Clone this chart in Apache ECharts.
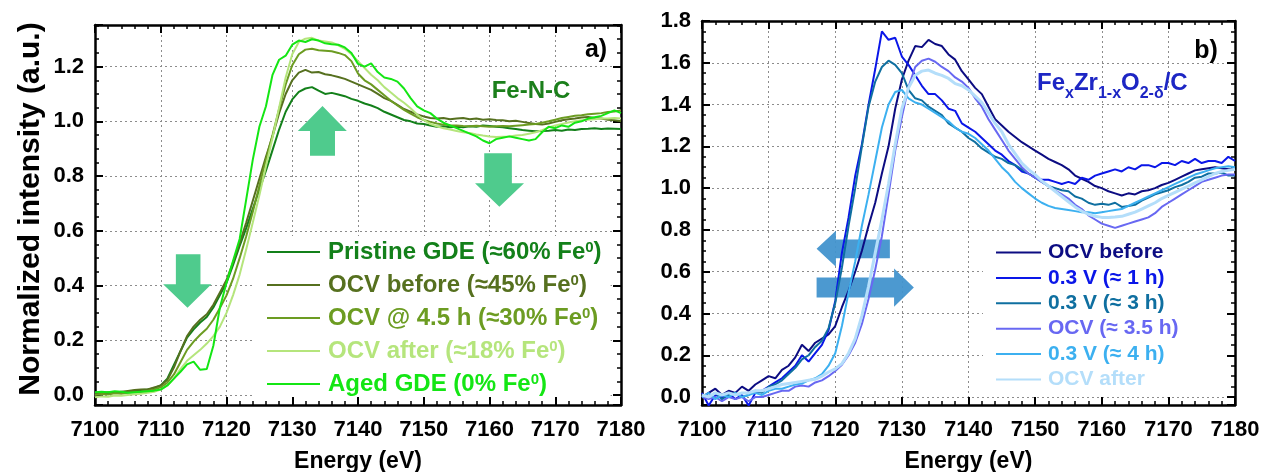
<!DOCTYPE html>
<html>
<head>
<meta charset="utf-8">
<script src="https://cdn.jsdelivr.net/npm/echarts@6/dist/echarts.min.js"></script>
<style>
  html, body { margin: 0; padding: 0; background: #fff; }
  #chart { width: 1263px; height: 472px; }
</style>
</head>
<body>
<div id="chart"></div>
<script>
// sampling grid (eV), 1 eV steps
const energy = Array.from({ length: 81 }, (_, i) => 7100 + i);

// panel a) Fe-N-C
const pristine = [
  0.005,0.008,0.006,0.010,0.008,0.012,0.015,0.018,0.020,0.025,
  0.035,0.060,0.110,0.160,0.210,0.240,0.265,0.285,0.320,0.365,
  0.410,0.475,0.545,0.610,0.680,0.750,0.820,0.895,0.970,1.035,
  1.080,1.108,1.120,1.125,1.112,1.100,1.104,1.098,1.092,1.082,
  1.075,1.065,1.058,1.048,1.035,1.025,1.015,1.005,1.000,0.992,
  0.990,0.985,0.980,0.982,0.978,0.980,0.978,0.982,0.980,0.985,
  0.983,0.980,0.978,0.975,0.972,0.968,0.966,0.964,0.965,0.966,
  0.968,0.966,0.970,0.968,0.972,0.973,0.975,0.972,0.974,0.973,
  0.972];
const ocvBeforeA = [
  0.008,0.005,0.010,0.008,0.012,0.015,0.018,0.020,0.020,0.028,
  0.035,0.055,0.100,0.160,0.215,0.250,0.275,0.295,0.330,0.375,
  0.420,0.485,0.555,0.630,0.710,0.790,0.870,0.945,1.030,1.100,
  1.150,1.178,1.188,1.178,1.180,1.172,1.168,1.162,1.155,1.145,
  1.135,1.125,1.115,1.100,1.085,1.075,1.060,1.045,1.035,1.025,
  1.018,1.012,1.010,1.012,1.008,1.010,1.012,1.008,1.010,1.006,
  1.008,1.005,1.004,1.000,1.002,0.998,0.994,0.990,0.988,0.992,
  0.998,1.004,1.008,1.010,1.014,1.016,1.012,1.010,1.006,1.004,
  1.000];
const ocv45 = [
  0.000,0.004,0.002,0.006,0.005,0.008,0.010,0.012,0.015,0.020,
  0.028,0.045,0.075,0.120,0.165,0.195,0.220,0.242,0.275,0.318,
  0.364,0.425,0.500,0.580,0.670,0.765,0.860,0.950,1.045,1.135,
  1.205,1.245,1.262,1.265,1.260,1.258,1.256,1.250,1.242,1.220,
  1.175,1.150,1.135,1.115,1.095,1.075,1.058,1.042,1.028,1.015,
  1.005,0.998,0.992,0.988,0.986,0.985,0.983,0.982,0.984,0.982,
  0.980,0.982,0.983,0.982,0.984,0.986,0.988,0.990,0.995,1.000,
  1.006,1.012,1.016,1.020,1.022,1.026,1.028,1.030,1.034,1.036,
  1.040];
const ocvAfterA = [
  -0.008,-0.005,-0.006,-0.002,-0.003,0.000,0.003,0.005,0.008,0.012,
  0.020,0.035,0.060,0.095,0.125,0.145,0.165,0.188,0.215,0.250,
  0.300,0.365,0.440,0.533,0.630,0.730,0.836,0.940,1.050,1.160,
  1.245,1.290,1.302,1.305,1.295,1.292,1.288,1.278,1.265,1.245,
  1.220,1.195,1.170,1.150,1.125,1.105,1.085,1.068,1.048,1.025,
  1.005,0.990,0.982,0.975,0.970,0.965,0.960,0.957,0.952,0.948,
  0.945,0.943,0.944,0.945,0.948,0.950,0.955,0.960,0.968,0.978,
  0.985,0.990,0.996,1.000,1.004,1.006,1.008,1.010,1.010,1.012,
  1.010];
const aged = [
  0.010,0.012,0.010,0.014,0.012,0.008,0.010,0.012,0.014,0.016,
  0.020,0.035,0.060,0.085,0.112,0.122,0.092,0.095,0.180,0.320,
  0.410,0.490,0.570,0.715,0.860,0.980,1.055,1.170,1.225,1.240,
  1.280,1.295,1.290,1.300,1.295,1.285,1.282,1.280,1.270,1.250,
  1.210,1.200,1.212,1.180,1.160,1.155,1.145,1.120,1.085,1.055,
  1.040,1.030,1.010,0.995,0.985,0.975,0.965,0.955,0.945,0.930,
  0.920,0.935,0.940,0.945,0.940,0.935,0.930,0.935,0.960,0.980,
  0.975,0.985,0.980,0.995,1.000,1.010,1.015,1.020,1.030,1.040,
  1.030];

// panel b) FexZr1-xO2-d/C
const ocvBeforeB = [
  0.000,0.020,0.040,0.010,0.030,0.020,0.050,0.030,0.060,0.080,
  0.100,0.090,0.130,0.150,0.190,0.250,0.220,0.260,0.280,0.300,
  0.340,0.430,0.510,0.600,0.700,0.820,0.930,1.070,1.200,1.380,
  1.520,1.610,1.680,1.675,1.710,1.690,1.680,1.640,1.615,1.560,
  1.520,1.480,1.450,1.390,1.330,1.300,1.270,1.245,1.220,1.200,
  1.180,1.160,1.140,1.125,1.110,1.090,1.060,1.045,1.030,1.010,
  1.000,0.985,0.975,0.965,0.975,0.970,0.985,0.990,1.000,1.015,
  1.025,1.040,1.055,1.070,1.085,1.090,1.095,1.100,1.095,1.090,
  1.090];
const v03h1 = [
  0.020,-0.040,0.010,0.000,0.020,-0.010,0.010,-0.040,0.020,0.030,
  0.050,0.070,0.090,0.120,0.150,0.200,0.170,0.210,0.250,0.320,
  0.460,0.690,0.860,1.060,1.210,1.400,1.570,1.750,1.710,1.720,
  1.630,1.590,1.540,1.490,1.450,1.450,1.420,1.380,1.370,1.310,
  1.290,1.270,1.240,1.210,1.180,1.160,1.130,1.110,1.080,1.070,
  1.050,1.040,1.040,1.030,1.020,1.030,1.020,1.050,1.040,1.060,
  1.070,1.080,1.090,1.080,1.100,1.090,1.110,1.110,1.100,1.120,
  1.120,1.110,1.130,1.120,1.140,1.120,1.130,1.130,1.120,1.150,
  1.130];
const v03h3 = [
  0.010,0.000,0.020,-0.010,0.010,0.020,0.000,0.010,0.030,0.020,
  0.050,0.060,0.080,0.110,0.140,0.180,0.200,0.240,0.270,0.330,
  0.450,0.620,0.820,1.000,1.200,1.390,1.510,1.580,1.610,1.590,
  1.550,1.470,1.430,1.420,1.390,1.370,1.350,1.310,1.290,1.270,
  1.240,1.220,1.190,1.170,1.150,1.140,1.120,1.110,1.090,1.070,
  1.050,1.030,1.010,1.000,0.990,0.985,0.960,0.950,0.930,0.920,
  0.925,0.920,0.930,0.910,0.915,0.920,0.940,0.955,0.970,0.980,
  0.990,1.005,1.015,1.030,1.050,1.055,1.070,1.070,1.075,1.060,
  1.060];
const ocvH35 = [
  0.000,-0.010,0.000,-0.020,0.000,-0.010,0.000,-0.020,0.000,0.000,
  0.010,0.020,0.030,0.030,0.050,0.055,0.050,0.070,0.080,0.100,
  0.125,0.155,0.200,0.260,0.350,0.470,0.610,0.770,0.970,1.180,
  1.340,1.485,1.580,1.610,1.620,1.605,1.580,1.560,1.530,1.510,
  1.480,1.430,1.390,1.330,1.280,1.230,1.180,1.140,1.100,1.070,
  1.050,1.030,1.010,0.990,0.970,0.950,0.920,0.900,0.870,0.850,
  0.830,0.820,0.810,0.820,0.830,0.840,0.850,0.860,0.880,0.910,
  0.930,0.950,0.970,0.990,1.010,1.030,1.040,1.050,1.060,1.065,
  1.065];
const v03h4 = [
  0.000,0.020,-0.010,0.010,0.000,0.020,0.000,0.010,0.020,0.010,
  0.030,0.040,0.040,0.050,0.060,0.065,0.080,0.090,0.110,0.150,
  0.210,0.340,0.500,0.650,0.820,0.970,1.130,1.290,1.400,1.460,
  1.470,1.430,1.410,1.400,1.380,1.360,1.340,1.320,1.290,1.270,
  1.260,1.240,1.210,1.180,1.140,1.100,1.070,1.030,1.000,0.975,
  0.950,0.930,0.915,0.905,0.900,0.895,0.890,0.885,0.885,0.880,
  0.885,0.890,0.895,0.900,0.915,0.930,0.945,0.960,0.975,0.990,
  1.005,1.020,1.035,1.050,1.065,1.075,1.085,1.095,1.100,1.105,
  1.100];
const ocvAfterB = [
  0.010,0.000,0.020,0.010,0.020,0.010,0.020,0.020,0.030,0.030,
  0.040,0.050,0.060,0.065,0.070,0.075,0.080,0.085,0.100,0.120,
  0.135,0.160,0.210,0.280,0.390,0.530,0.690,0.850,1.020,1.210,
  1.380,1.480,1.540,1.560,1.565,1.550,1.540,1.525,1.500,1.490,
  1.470,1.440,1.410,1.360,1.310,1.270,1.210,1.165,1.120,1.090,
  1.065,1.035,1.010,0.985,0.960,0.935,0.910,0.890,0.875,0.865,
  0.860,0.860,0.862,0.865,0.875,0.885,0.900,0.915,0.930,0.950,
  0.965,0.980,0.995,1.010,1.025,1.040,1.055,1.070,1.080,1.085,
  1.090];

const namesA = ["Pristine GDE (≈60% Fe0)", "OCV before (≈45% Fe0)", "OCV @ 4.5 h (≈30% Fe0)", "OCV after (≈18% Fe0)", "Aged GDE (0% Fe0)"];
const namesB = ["OCV before", "0.3 V (≈ 1 h)", "0.3 V (≈ 3 h)", "OCV (≈ 3.5 h)", "0.3 V (≈ 4 h)", "OCV after"];
const yTicksA = [0, 0.2, 0.4, 0.6, 0.8, 1.0, 1.2];
const yTicksB = [0, 0.2, 0.4, 0.6, 0.8, 1.0, 1.2, 1.4, 1.6, 1.8];

const valuesA = [pristine, ocvBeforeA, ocv45, ocvAfterA, aged];
const valuesB = [ocvBeforeB, v03h1, v03h3, ocvH35, v03h4, ocvAfterB];
const colorsA = ["#13801a", "#56701f", "#6c9c22", "#b5e57c", "#14e614"];
const colorsB = ["#0c0c82", "#0a16e8", "#0f6fa0", "#6868f2", "#3cb0f0", "#b4defa"];

const FONT = "'Liberation Sans', Arial, sans-serif";
const chart = echarts.init(document.getElementById("chart"));

function onTick(v, ticks) {
  return ticks.some(t => Math.abs(t - v) < 1e-6) ? v.toFixed(1) : "";
}

function xAxes(grid) {
  const base = {
    gridIndex: grid, type: "value", min: 7100, max: 7180, interval: 10,
    axisLine: { show: true, onZero: false, lineStyle: { color: "#000", width: 2.5 } },
    axisTick: { show: true, inside: true, length: 8, lineStyle: { color: "#000", width: 2 } },
    minorTick: { show: true, splitNumber: 5, length: 4, lineStyle: { color: "#000", width: 1.5 } },
  };
  return [
    Object.assign({}, base, {
      position: "bottom",
      axisLabel: { color: "#000", fontSize: 22, fontWeight: "bold", fontFamily: FONT, margin: 14,
        formatter: v => String(v) },
      splitLine: { show: true, lineStyle: { color: "#8c8c8c", width: 1, type: [2, 3] } },
      name: "Energy (eV)", nameLocation: "middle", nameGap: 45,
      nameTextStyle: { color: "#000", fontSize: 23, fontWeight: "bold", fontFamily: FONT },
    }),
    Object.assign({}, base, { position: "top", axisLabel: { show: false }, splitLine: { show: false } }),
  ];
}

function yAxes(grid, min, max, ticks) {
  const base = {
    gridIndex: grid, type: "value", min: min, max: max, minInterval: 0.2, maxInterval: 0.2,
    axisLine: { show: true, onZero: false, lineStyle: { color: "#000", width: 2.5 } },
    axisTick: { show: true, inside: true, length: 8, lineStyle: { color: "#000", width: 2 } },
    minorTick: { show: true, splitNumber: 4, length: 4, lineStyle: { color: "#000", width: 1.5 } },
  };
  return [
    Object.assign({}, base, {
      position: "left",
      axisLabel: { color: "#000", fontSize: 22, fontWeight: "bold", fontFamily: FONT, margin: 11,
        formatter: v => onTick(v, ticks) },
      splitLine: { show: true, lineStyle: { color: "#8c8c8c", width: 1, type: [2, 3] } },
    }),
    Object.assign({}, base, { position: "right", axisLabel: { show: false }, splitLine: { show: false } }),
  ];
}

const series = [];
valuesA.forEach((vals, i) => series.push({
  name: namesA[i], type: "line", xAxisIndex: 0, yAxisIndex: 0, symbol: "none",
  data: energy.map((e, k) => [e, vals[k]]),
  lineStyle: { color: colorsA[i], width: 2 }, itemStyle: { color: colorsA[i] },
  z: 3,
}));
valuesB.forEach((vals, i) => series.push({
  name: namesB[i], type: "line", xAxisIndex: 2, yAxisIndex: 2, symbol: "none",
  data: energy.map((e, k) => [e, vals[k]]),
  lineStyle: { color: colorsB[i], width: i === 5 ? 3 : 2 }, itemStyle: { color: colorsB[i] },
  z: 3,
}));

const option = {
  backgroundColor: "#fff",
  animation: false,
  textStyle: { fontFamily: FONT },
  grid: [
    { left: 95, top: 25, width: 526, height: 380, outerBoundsMode: "none", containLabel: false },
    { left: 702, top: 21, width: 533, height: 384, outerBoundsMode: "none", containLabel: false },
  ],
  xAxis: [...xAxes(0), ...xAxes(1)],
  yAxis: [...yAxes(0, -0.0365, 1.352, yTicksA), ...yAxes(1, -0.038, 1.8, yTicksB)],
  legend: [
    {
      orient: "vertical", left: 253, top: 236, padding: [4, 9, 1, 14], backgroundColor: "#fff",
      icon: "rect", itemWidth: 53, itemHeight: 2, itemGap: 9, selectedMode: false,
      data: namesA.map((n, i) => ({ name: n, textStyle: { color: colorsA[i] } })),
      formatter: n => "{t|" + n.replace(/Fe0\)$/, "Fe") + "}{s|0}{t|)}",
      textStyle: {
        fontSize: 24, fontWeight: "bold", fontFamily: FONT, lineHeight: 24, padding: [0, 0, 0, 3],
        rich: {
          t: { fontSize: 24, fontWeight: "bold", fontFamily: FONT, lineHeight: 24 },
          s: { fontSize: 15, fontWeight: "bold", fontFamily: FONT, lineHeight: 14, verticalAlign: "top" },
        },
      },
    },
    {
      orient: "vertical", left: 983, top: 238, padding: [4, 47, 7, 13], backgroundColor: "#fff",
      icon: "rect", itemWidth: 45, itemHeight: 2, itemGap: 4.4, selectedMode: false,
      data: namesB.map((n, i) => ({ name: n, textStyle: { color: colorsB[i] } })),
      textStyle: { fontSize: 21, fontWeight: "bold", fontFamily: FONT, lineHeight: 21, padding: [0, 0, 0, 2] },
    },
  ],
  series: series,
};
chart.setOption(option);

// annotation arrows, in data coordinates of each panel
const arrowsA = [
  [[7132.7, 0.874], [7132.7, 0.965], [7130.85, 0.965], [7134.6, 1.056], [7138.3, 0.965], [7136.5, 0.965], [7136.5, 0.874]],
  [[7159.2, 0.883], [7159.2, 0.774], [7157.8, 0.774], [7161.5, 0.688], [7165.25, 0.774], [7163.4, 0.774], [7163.4, 0.883]],
  [[7112.3, 0.514], [7112.3, 0.405], [7110.36, 0.405], [7114.07, 0.319], [7117.7, 0.405], [7116.04, 0.405], [7116.04, 0.514]],
];
const arrowsB = [
  [[7117.2, 0.7096], [7120.1, 0.7957], [7120.1, 0.7545], [7128.2, 0.7545], [7128.2, 0.665], [7120.1, 0.665], [7120.1, 0.6234]],
  [[7117.2, 0.5727], [7128.83, 0.5727], [7128.83, 0.6158], [7131.8, 0.5249], [7128.83, 0.432], [7128.83, 0.477], [7117.2, 0.477]],
];

function toPx(grid, pts) {
  return pts.map(p => chart.convertToPixel({ gridIndex: grid }, p));
}

const graphic = [];
arrowsA.forEach(a => graphic.push({
  type: "polygon", z: 1, shape: { points: toPx(0, a) }, style: { fill: "#4fcb8d" },
}));
arrowsB.forEach(a => graphic.push({
  type: "polygon", z: 1, shape: { points: toPx(1, a) }, style: { fill: "#4293cd", opacity: 0.95 },
}));
graphic.push(
  { type: "text", x: 31, y: 209, rotation: Math.PI / 2, z: 10,
    style: { text: "Normalized intensity (a.u.)", font: "bold 30px " + FONT, fill: "#000", align: "center", verticalAlign: "middle" } },
  { type: "text", x: 596, y: 50, z: 10, style: { text: "a)", font: "bold 25px " + FONT, fill: "#000", align: "center", verticalAlign: "middle" } },
  { type: "text", x: 531, y: 91, z: 10, style: { text: "Fe-N-C", font: "bold 24px " + FONT, fill: "#1b7f1b", align: "center", verticalAlign: "middle" } },
  { type: "text", x: 1206, y: 51, z: 10, style: { text: "b)", font: "bold 25px " + FONT, fill: "#000", align: "center", verticalAlign: "middle" } },
  {
    type: "text", x: 1037, y: 70, z: 10,
    style: {
      text: "{m|Fe}{s|x}{m|Zr}{s|1-x}{m|O}{s|2-δ}{m|/C}",
      fill: "#1d26c4",
      rich: {
        m: { font: "bold 24px " + FONT, lineHeight: 26, fill: "#1d26c4" },
        s: { font: "bold 16px " + FONT, lineHeight: 16, verticalAlign: "bottom", padding: [0, 0, -6, 0], fill: "#1d26c4" },
      },
    },
  }
);
chart.setOption({ graphic: graphic });
</script>
</body>
</html>
